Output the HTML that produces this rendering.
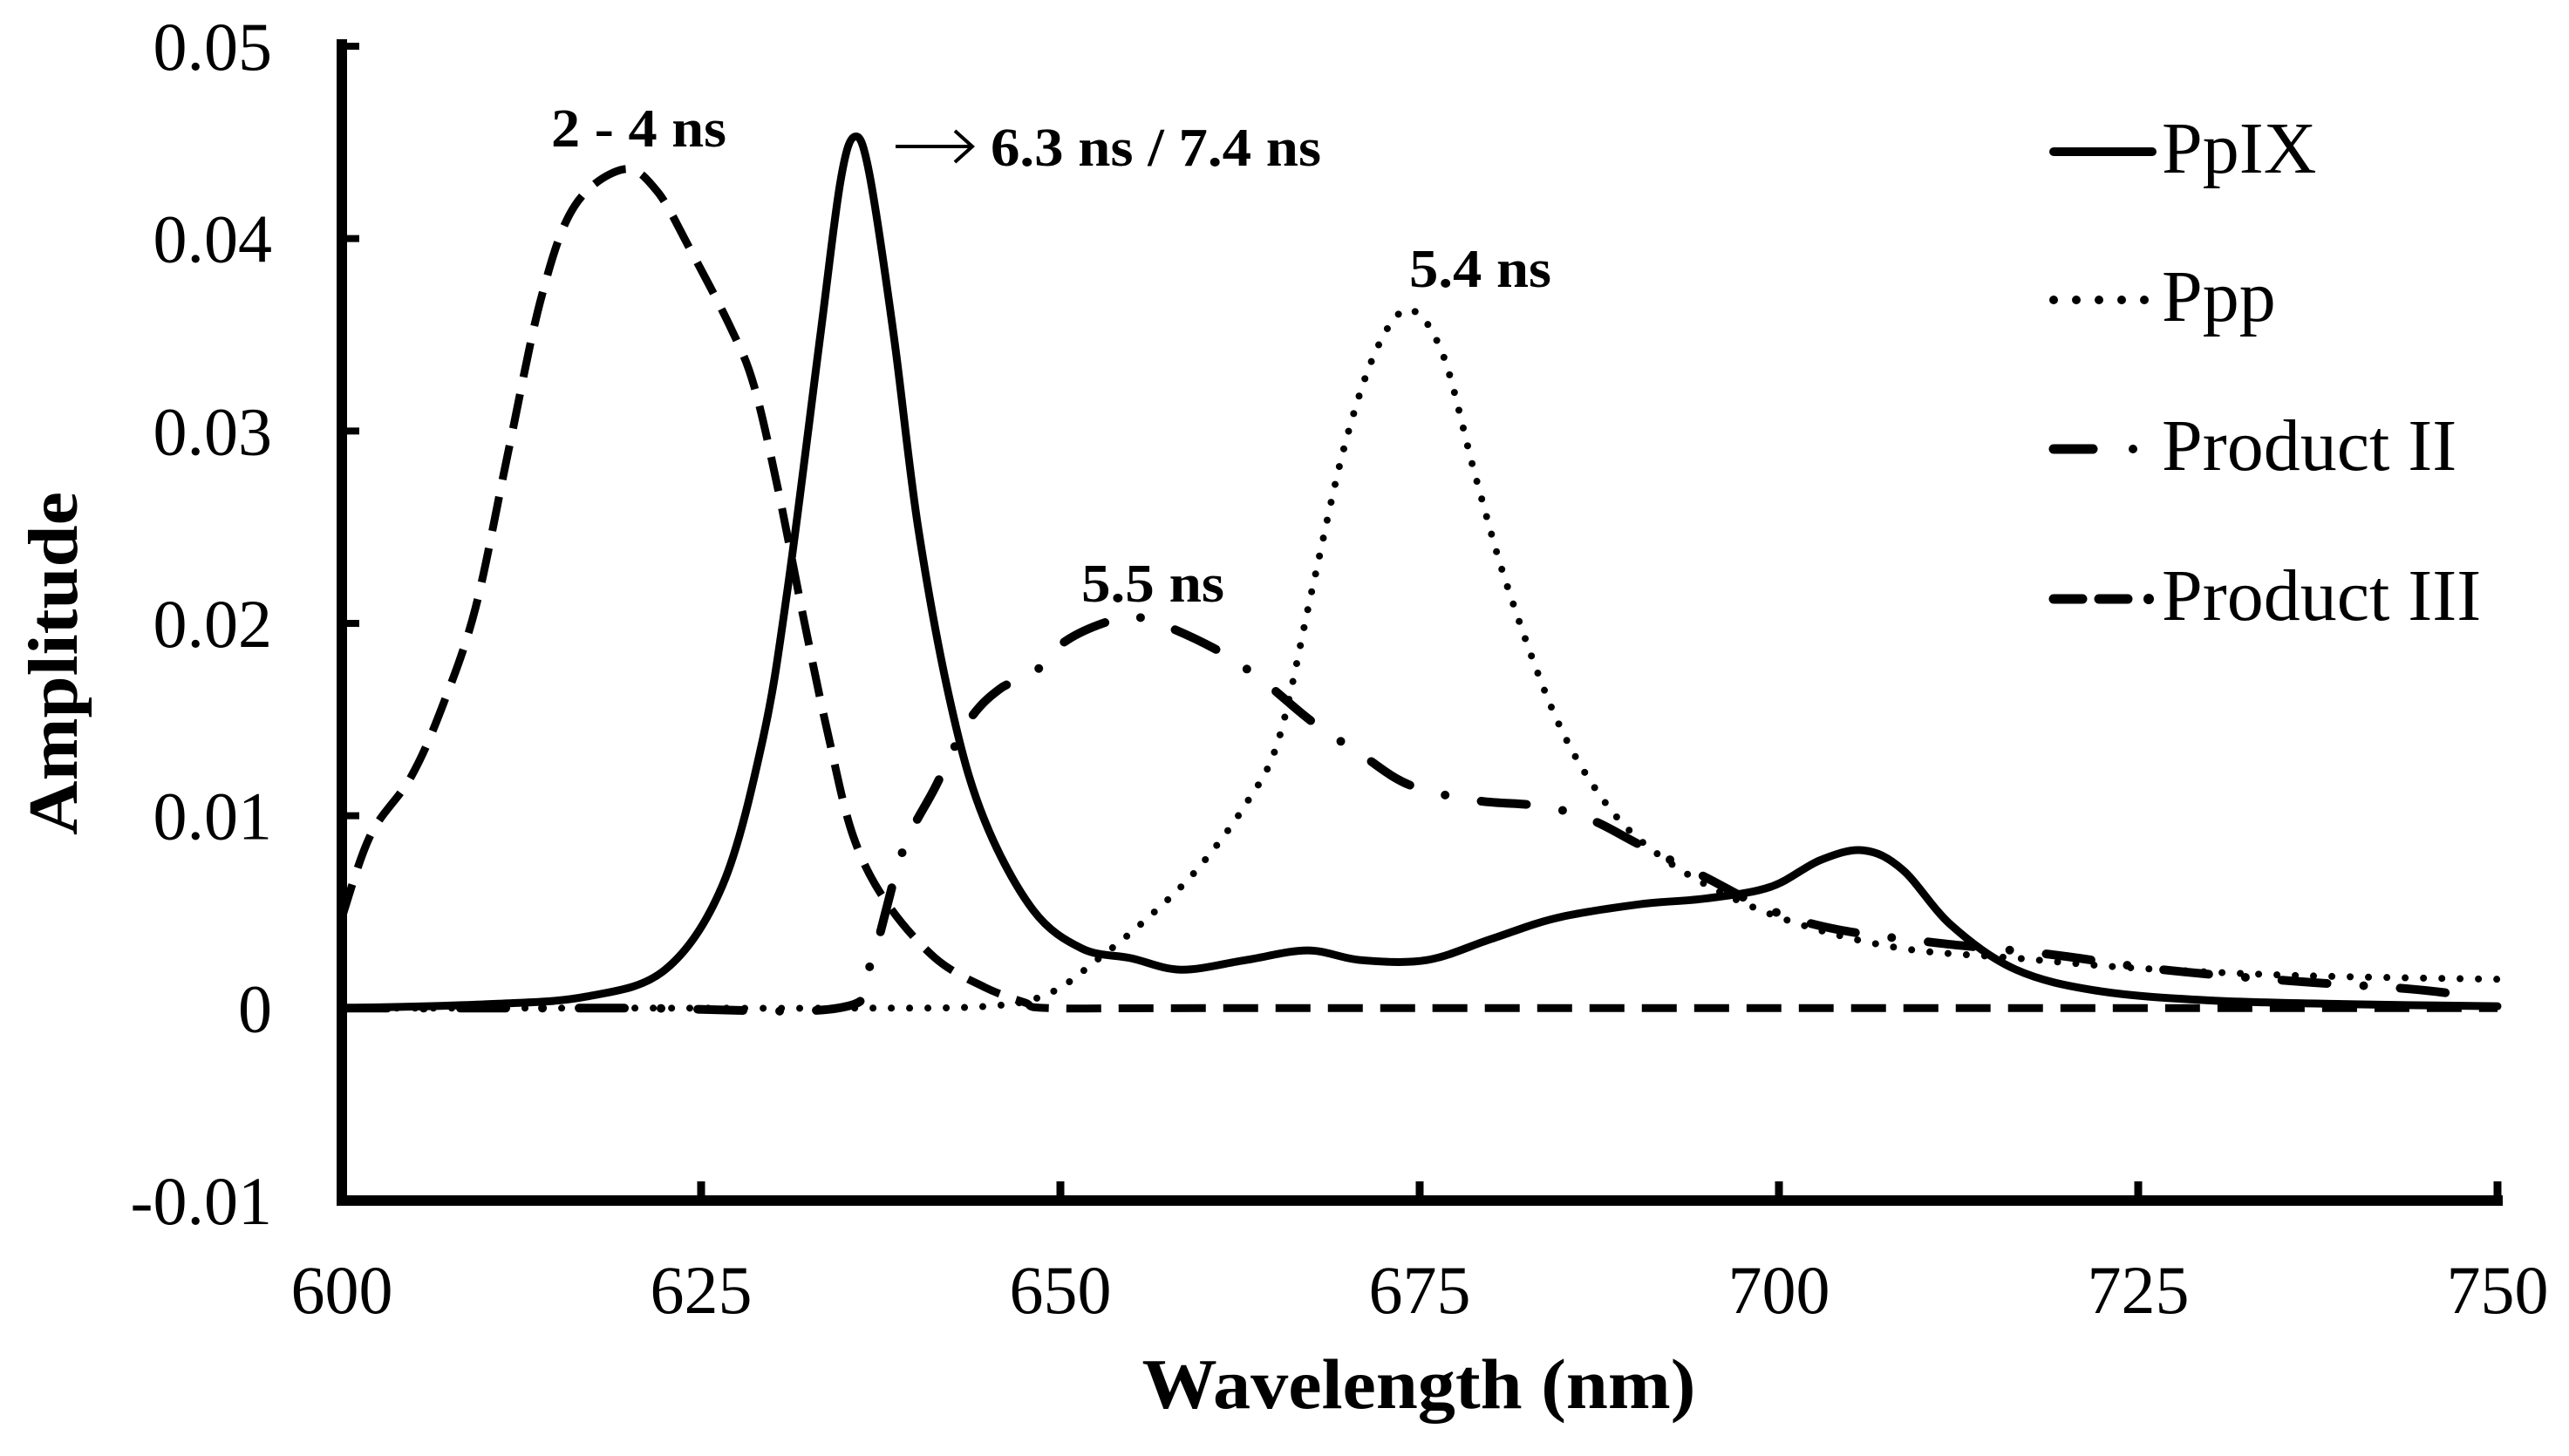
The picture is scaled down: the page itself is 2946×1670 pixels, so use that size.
<!DOCTYPE html>
<html><head><meta charset="utf-8">
<style>
html,body{margin:0;padding:0;background:#fff;}
svg{display:block;}
text{font-family:"Liberation Serif",serif;fill:#000;}
</style></head>
<body>
<svg id="chart" width="2946" height="1670" viewBox="0 0 2946 1670" xmlns="http://www.w3.org/2000/svg">
<g id="axes"></g>
<g id="series"></g>
<g id="annotations">
  <text x="632" y="168" font-size="62" font-weight="bold" textLength="201" lengthAdjust="spacingAndGlyphs">2 - 4 ns</text>
  <line x1="1027" y1="168" x2="1112" y2="168" stroke="#000" stroke-width="4"/>
  <polyline points="1095,150 1115,168 1095,186" fill="none" stroke="#000" stroke-width="4"/>
  <text x="1136" y="190" font-size="62" font-weight="bold" textLength="379" lengthAdjust="spacingAndGlyphs">6.3 ns / 7.4 ns</text>
  <text x="1616" y="329" font-size="62" font-weight="bold" textLength="163" lengthAdjust="spacingAndGlyphs">5.4 ns</text>
  <text x="1240" y="690" font-size="62" font-weight="bold" textLength="164" lengthAdjust="spacingAndGlyphs">5.5 ns</text>
</g>
<g id="legend">
  <line x1="2355" y1="174" x2="2468" y2="174" stroke="#000" stroke-width="10" stroke-linecap="round"/>
  <line x1="2355" y1="344" x2="2468" y2="344" stroke="#000" stroke-width="10" stroke-linecap="round" stroke-dasharray="0 26"/>
  <line x1="2355" y1="515" x2="2400" y2="515" stroke="#000" stroke-width="11" stroke-linecap="round"/>
  <circle cx="2446" cy="515" r="5"/>
  <line x1="2355" y1="687" x2="2388" y2="687" stroke="#000" stroke-width="11" stroke-linecap="round"/>
  <line x1="2407" y1="687" x2="2440" y2="687" stroke="#000" stroke-width="11" stroke-linecap="round"/>
  <circle cx="2464" cy="687" r="6"/>
</g>
<text x="1627" y="1615" font-size="82" font-weight="bold" text-anchor="middle" textLength="635" lengthAdjust="spacingAndGlyphs">Wavelength (nm)</text>
<text transform="translate(88,761) rotate(-90)" font-size="80" font-weight="bold" text-anchor="middle" textLength="394" lengthAdjust="spacingAndGlyphs">Amplitude</text>
</svg>
<script>
const xTicks = [600, 625, 650, 675, 700, 725, 750];
const yTicks = [-0.01, 0, 0.01, 0.02, 0.03, 0.04, 0.05];
const yTickLabels = ["-0.01", "0", "0.01", "0.02", "0.03", "0.04", "0.05"];
const seriesNames = ["PpIX", "Ppp", "Product II", "Product III"];

const ppixX = [600,610,617,622.5,626.5,629.3,631,633.3,634.7,635.7,636.7,638.4,640.1,642.4,644.7,648.1,651.5,654.9,658.4,662.9,667.2,670.9,675.5,680,684.6,690.3,694.9,699.4,702.9,705.9,708.6,712,716.5,722.2,730,740,750];
const ppixY = [0,0.0002,0.0006,0.002,0.0064,0.014,0.0217,0.035,0.043,0.0453,0.0434,0.035,0.025,0.0157,0.0098,0.0051,0.0031,0.0026,0.002,0.0025,0.003,0.0025,0.0025,0.0036,0.0047,0.0054,0.0057,0.0063,0.0077,0.0082,0.0072,0.0043,0.002,0.0009,0.0004,0.0002,0.0001];

const pppX = [600,620,635,645,649.3,652.7,656.1,659.5,662.9,665.2,667.5,669.8,672.1,674.3,676.6,678.9,681.2,684.6,688,691.4,696,701.7,708.6,716.5,724.5,735.9,750];
const pppY = [0,0,0,0.0001,0.0008,0.0026,0.0047,0.0072,0.0106,0.014,0.0217,0.0293,0.0344,0.0363,0.034,0.0276,0.0217,0.0149,0.0106,0.0081,0.006,0.0043,0.0031,0.0026,0.0021,0.0017,0.0015];

const prod2X = [600,620,634.5,636.7,639,641.3,643.6,645.8,648.1,650.4,653.8,656.1,660.7,664.1,667.5,670.9,674.3,678.9,683.5,686.9,690.3,694.9,699.4,704,710.9,718.8,726.7,735.9,743.9,748.4];
const prod2Y = [0,0,0,0.0021,0.0081,0.0115,0.0149,0.0166,0.0174,0.0191,0.0202,0.0202,0.0187,0.017,0.0149,0.0132,0.0116,0.0108,0.0105,0.0098,0.0085,0.0068,0.0051,0.0041,0.0034,0.0028,0.002,0.0014,0.001,0.0006];

const prod3X = [600,602,604.8,607,609.3,611.6,613.9,616.2,619.6,621.9,624.2,627.1,628.7,630.4,632.2,633.9,635.6,637.9,641.3,644.7,647.5,649.3,660,700,750];
const prod3Y = [0.0047,0.009,0.012,0.0157,0.0208,0.029,0.037,0.0417,0.0436,0.0425,0.0395,0.0353,0.0323,0.0268,0.02,0.014,0.0089,0.0055,0.0026,0.0011,0.0003,0,0,0,0];

const NS = "http://www.w3.org/2000/svg";
const X0 = 392, X1 = 2864, YTOP = 53, YBOT = 1377;
function xs(v){ return X0 + (v - 600) / 150 * (X1 - X0); }
function ys(v){ return YBOT - (v + 0.01) / 0.06 * (YBOT - YTOP); }
function mk(tag, parent){ const e = document.createElementNS(NS, tag); parent.appendChild(e); return e; }

const axes = document.getElementById('axes');
const yAxis = mk('line', axes);


yAxis.setAttribute('x1', X0); yAxis.setAttribute('x2', X0);
yAxis.setAttribute('y1', YTOP - 8); yAxis.setAttribute('y2', YBOT + 6);
yAxis.setAttribute('stroke', '#000'); yAxis.setAttribute('stroke-width', 12);
const xAxis = mk('line', axes);


xAxis.setAttribute('x1', X0); xAxis.setAttribute('x2', X1 + 6);
xAxis.setAttribute('y1', YBOT); xAxis.setAttribute('y2', YBOT);
xAxis.setAttribute('stroke', '#000'); xAxis.setAttribute('stroke-width', 12);

xTicks.forEach((t) => {
  const tk = mk('line', axes);
  
  
  tk.setAttribute('x1', xs(t)); tk.setAttribute('x2', xs(t));
  tk.setAttribute('y1', YBOT); tk.setAttribute('y2', YBOT - 22);
  tk.setAttribute('stroke', '#000'); tk.setAttribute('stroke-width', 9);
  const lb = mk('text', axes);
  
  
  lb.setAttribute('x', xs(t)); lb.setAttribute('y', 1506);
  lb.setAttribute('font-size', 78); lb.setAttribute('text-anchor', 'middle');
  lb.textContent = String(t);
});
yTicks.forEach((t, i) => {
  const tk = mk('line', axes);
  
  
  tk.setAttribute('x1', X0); tk.setAttribute('x2', X0 + 20);
  tk.setAttribute('y1', ys(t)); tk.setAttribute('y2', ys(t));
  tk.setAttribute('stroke', '#000'); tk.setAttribute('stroke-width', 8);
  const lb = mk('text', axes);
  
  
  lb.setAttribute('x', 312); lb.setAttribute('y', ys(t) + 27);
  lb.setAttribute('font-size', 78); lb.setAttribute('text-anchor', 'end');
  lb.textContent = yTickLabels[i];
});

function smoothPath(xv, yv){
  const p = xv.map((x, i) => [xs(x), ys(yv[i])]);
  let d = 'M' + p[0][0].toFixed(1) + ',' + p[0][1].toFixed(1);
  for (let i = 0; i < p.length - 1; i++){
    const p0 = p[Math.max(i-1,0)], p1 = p[i], p2 = p[i+1], p3 = p[Math.min(i+2,p.length-1)];
    const c1 = [p1[0] + (p2[0]-p0[0])/6, p1[1] + (p2[1]-p0[1])/6];
    const c2 = [p2[0] - (p3[0]-p1[0])/6, p2[1] - (p3[1]-p1[1])/6];
    d += 'C' + c1[0].toFixed(1)+','+c1[1].toFixed(1)+' '+c2[0].toFixed(1)+','+c2[1].toFixed(1)+' '+p2[0].toFixed(1)+','+p2[1].toFixed(1);
  }
  return d;
}
const styles = [
  {w: 9, dash: null, cap: 'round'},
  {w: 8, dash: '0 21', cap: 'round'},
  {w: 10, dash: '52 42 0 42', cap: 'round'},
  {w: 9, dash: '40 20', cap: 'butt'}
];
const seriesData = [[ppixX, ppixY], [pppX, pppY], [prod2X, prod2Y], [prod3X, prod3Y]];
const seriesG = document.getElementById('series');
const seriesIds = ['series-ppix', 'series-ppp', 'series-product-ii', 'series-product-iii'];
seriesData.forEach((s, i) => {
  const path = mk('path', seriesG);
  
  
  path.setAttribute('d', smoothPath(s[0], s[1]));
  path.setAttribute('fill', 'none'); path.setAttribute('stroke', '#000');
  path.setAttribute('stroke-width', styles[i].w);
  path.setAttribute('stroke-linecap', styles[i].cap);
  path.setAttribute('stroke-linejoin', 'round');
  if (styles[i].dash) path.setAttribute('stroke-dasharray', styles[i].dash);
});

const legend = document.getElementById('legend');
const legLineY = [174, 344, 515, 687];
seriesNames.forEach((n, i) => {
  const tx = mk('text', legend);
  
  
  tx.setAttribute('x', 2479); tx.setAttribute('y', legLineY[i] + 24);
  tx.setAttribute('font-size', 84);
  tx.textContent = n;
});
</script>
</body></html>
